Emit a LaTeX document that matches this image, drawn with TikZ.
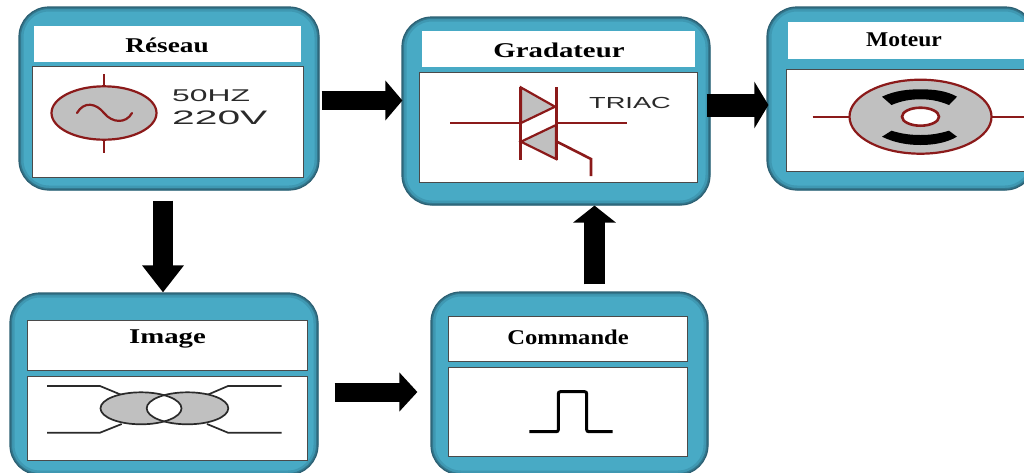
\documentclass[tikz,border=0pt]{standalone}
\usepackage{fontspec}
\setmainfont{Liberation Serif}
\newfontfamily\sansfont{Liberation Sans}
\usetikzlibrary{arrows.meta}
\definecolor{teal1}{HTML}{48AAC5}
\definecolor{teal2}{HTML}{3F98B2}
\definecolor{teal3}{HTML}{33788E}
\definecolor{edgedark}{HTML}{2C6073}
\definecolor{wine}{HTML}{8B1A1A}
\definecolor{symgray}{HTML}{C0C0C0}
\definecolor{framegray}{HTML}{4A4A4A}
\definecolor{figdark}{HTML}{2A2A2A}
\tikzset{
  blockbox/.style={rectangle,rounded corners=30pt,fill=teal1,draw=edgedark,line width=1.2pt,inner sep=0pt,
    path picture={
      \draw[teal2,line width=9pt,rounded corners=30pt] (path picture bounding box.south west) rectangle (path picture bounding box.north east);
      \draw[teal3,line width=4pt,rounded corners=30pt] (path picture bounding box.south west) rectangle (path picture bounding box.north east);
    }},
  titlebox/.style={rectangle,fill=white,inner sep=0pt},
  framed/.style={draw=framegray,line width=1pt},
  viewbox/.style={rectangle,fill=white,draw=framegray,line width=1pt,inner sep=0pt},
  blocklabel/.style={inner sep=0pt,font=\fontsize{21}{21}\selectfont\bfseries,text=black},
  iconlabel/.style={inner sep=0pt,anchor=west,text=figdark},
  winesym/.style={draw=wine,line width=2.2pt},
  figsym/.style={draw=figdark,line width=1.7pt},
}
\begin{document}
\begin{tikzpicture}[x=1pt,y=-1pt]
\useasboundingbox (0,0) rectangle (1024,472);
\clip (0,0) rectangle (1024,472);
\fill[white] (0,0) rectangle (1024,472);

% outer blocks
\node[blockbox,minimum width=300pt,minimum height=183pt] (reseau) at (169,98.5) {};
\node[blockbox,minimum width=308pt,minimum height=188pt] (gradateur) at (556,111) {};
\node[blockbox,minimum width=268pt,minimum height=183pt] (moteur) at (901,98.5) {};
\node[blockbox,minimum width=308pt,minimum height=182pt] (image) at (164,384) {};
\node[blockbox,minimum width=277pt,minimum height=183pt] (commande) at (569.5,383.5) {};

% titles
\node[titlebox,minimum width=267pt,minimum height=36pt] (reseauT) at (167.5,44) {};
\node[titlebox,minimum width=273pt,minimum height=36pt] (gradateurT) at (558.5,49) {};
\node[titlebox,minimum width=240pt,minimum height=37pt] (moteurT) at (908,40.5) {};
\node[titlebox,framed,minimum width=280pt,minimum height=50pt] (imageT) at (167,345) {};
\node[titlebox,framed,minimum width=239pt,minimum height=45pt] (commandeT) at (567.5,338.5) {};

\node[blocklabel] (reseauL) at (167,45) {\scalebox{1.3}[1]{Réseau}};
\node[blocklabel] (gradateurL) at (559,50) {\scalebox{1.37}[1]{Gradateur}};
\node[blocklabel] (moteurL) at (904,39.5) {\scalebox{1.12}[1]{Moteur}};
\node[blocklabel] (imageL) at (167.5,339) {\scalebox{1.37}[1]{Image}};
\node[blocklabel] (commandeL) at (568,337) {\scalebox{1.17}[1]{Commande}};

% content panels
\node[viewbox,minimum width=271pt,minimum height=111pt] (reseauV) at (167.5,121.5) {};
\node[viewbox,minimum width=278pt,minimum height=110pt] (gradateurV) at (558,127) {};
\node[viewbox,minimum width=242pt,minimum height=102pt] (moteurV) at (907,120) {};
\node[viewbox,minimum width=280pt,minimum height=84pt] (imageV) at (167,418) {};
\node[viewbox,minimum width=239pt,minimum height=89pt] (commandeV) at (567.5,411.5) {};

% Reseau icon
\draw[winesym] (104,74) -- (104,88) (104,140) -- (104,153);
\draw[winesym,fill=symgray] (104,113) ellipse [x radius=52.5,y radius=26.7];
\draw[winesym,line cap=round] (77,113) .. controls (84,101) and (96,103) .. (104,113) .. controls (112,123) and (126,124) .. (132,113);
\node[iconlabel,font=\sansfont\fontsize{17}{17}\selectfont] (freq) at (172,96) {\scalebox{1.87}[1]{50HZ}};
\node[iconlabel,font=\sansfont\fontsize{19.5}{19.5}\selectfont] (volt) at (172,118) {\scalebox{2.09}[1]{220V}};

% Triac icon
\draw[winesym,fill=symgray,line join=miter] (521,87.5) -- (555,106.7) -- (521,123) -- cycle;
\draw[winesym,fill=symgray,line join=miter] (556,125) -- (521,141.7) -- (556,159) -- cycle;
\draw[winesym,line width=3pt] (520.6,87) -- (520.6,160) (556,87) -- (556,160);
\draw[winesym] (450,123) -- (520,123) (556,123) -- (627,123);
\draw[winesym,line width=2.6pt] (557,141.7) -- (591,159) -- (591,176);
\node[iconlabel,font=\sansfont\fontsize{16}{16}\selectfont] (triac) at (589,102.5) {\scalebox{1.7}[1]{TRIAC}};

% Motor icon
\draw[winesym] (812.7,116.7) -- (850,116.7) (992,116.7) -- (1024,116.7);
\draw[winesym,fill=symgray] (920.5,116.7) ellipse [x radius=71,y radius=37];
\fill[black] (882,96.7) .. controls (895,90.5) and (908,89.3) .. (920.5,89.3) .. controls (933,89.3) and (946,90.5) .. (957,96.7) -- (949,105) .. controls (938,100.5) and (930,99.3) .. (920.5,99.3) .. controls (911,99.3) and (902,100.5) .. (891.5,105) -- cycle;
\fill[black] (882,136.7) .. controls (895,143) and (908,145) .. (920.5,145) .. controls (933,145) and (946,143) .. (957,136.7) -- (949,130.7) .. controls (938,134) and (930,135) .. (920.5,135) .. controls (911,135) and (902,134) .. (891.5,130.7) -- cycle;
\draw[wine,line width=2.6pt,fill=white] (920.5,116.7) ellipse [x radius=18.5,y radius=9];

% Transformer icon
\draw[figsym] (47,386) -- (100,386) -- (121.7,395) (47,432.7) -- (100,432.7) -- (121.7,424);
\draw[figsym] (281.7,386) -- (228,386) -- (207,395) (281.7,432.7) -- (228,432.7) -- (207,424);
\fill[symgray] (141,408.3) ellipse [x radius=40.5,y radius=16];
\fill[symgray] (187.5,408.3) ellipse [x radius=40.8,y radius=16];
\begin{scope}
  \clip (141,408.3) ellipse [x radius=40.5,y radius=16];
  \fill[white] (187.5,408.3) ellipse [x radius=40.8,y radius=16];
\end{scope}
\draw[figsym] (141,408.3) ellipse [x radius=40.5,y radius=16];
\draw[figsym] (187.5,408.3) ellipse [x radius=40.8,y radius=16];

% Pulse icon
\draw[black,line width=3pt,rounded corners=2pt] (529.3,431.7) -- (558.3,431.7) -- (558.3,391.7) -- (586.7,391.7) -- (586.7,431.7) -- (612.7,431.7);

% connectors
\coordinate (ya) at (0,100.5);
\coordinate (yb) at (0,105);
\coordinate (yc) at (0,392);
\coordinate (xa) at (163,0);
\coordinate (xb) at (594.5,0);
\draw[line width=19pt,-{Triangle[length=17pt,width=39pt]},shorten <=2pt,shorten >=-1pt] (reseau.east |- ya) -- (gradateur.west |- ya);
\draw[line width=23pt,-{Triangle[length=14pt,width=46pt]},shorten <=-4pt,shorten >=-2pt] (gradateur.east |- yb) -- (moteur.west |- yb);
\draw[line width=20pt,-{Triangle[length=27pt,width=40pt]},shorten <=10pt,shorten >=0pt] (reseau.south -| xa) -- (image.north -| xa);
\draw[line width=21pt,-{Triangle[length=17pt,width=42pt]},shorten <=7pt,shorten >=0pt] (commande.north -| xb) -- (gradateur.south -| xb);
\draw[line width=19pt,-{Triangle[length=18pt,width=38pt]},shorten <=16pt,shorten >=13pt] (image.east |- yc) -- (commande.west |- yc);
\end{tikzpicture}
\end{document}
